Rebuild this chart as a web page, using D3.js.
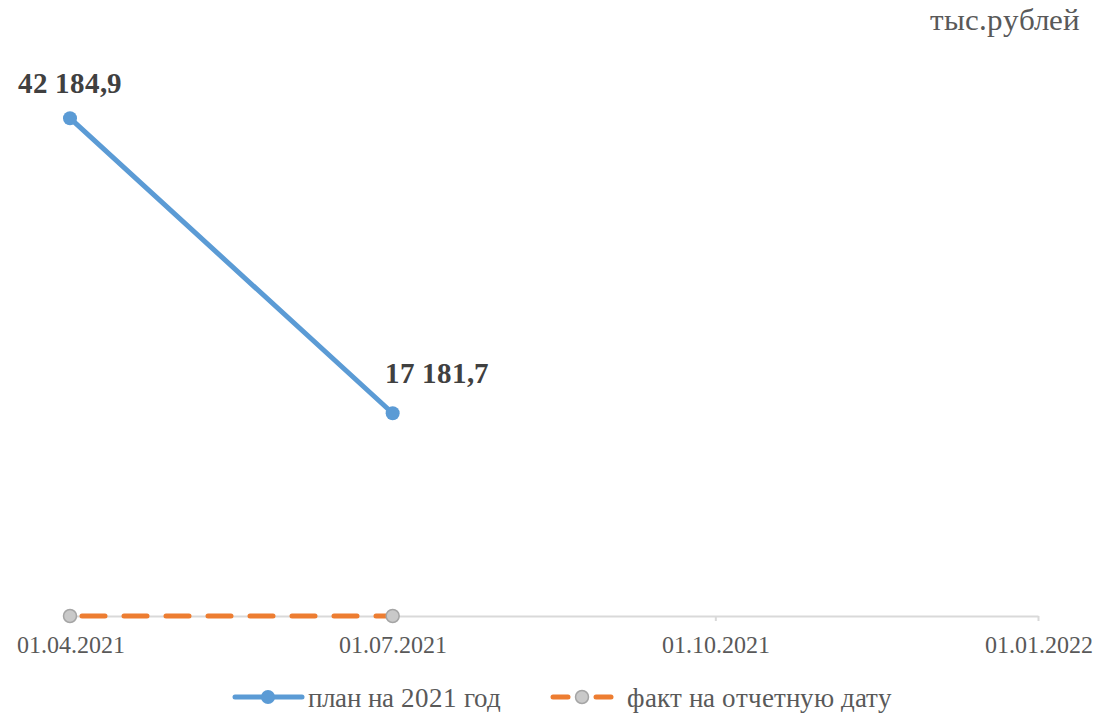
<!DOCTYPE html>
<html><head><meta charset="utf-8">
<script src="https://cdn.jsdelivr.net/npm/d3@7"></script>
<style>
@font-face{font-family:"ChartSerif";src:local("Liberation Serif"),local("LiberationSerif"),local("Liberation Serif Regular"),local("LiberationSerif-Regular");font-weight:400;}
@font-face{font-family:"ChartSerif";src:local("Liberation Serif Bold"),local("LiberationSerif-Bold");font-weight:700;}
body{margin:0;background:#fff}
</style>
</head><body>
<svg id="c" width="1096" height="715"></svg>
<script>
const categories = ["01.04.2021","01.07.2021","01.10.2021","01.01.2022"];
const planValues = [42184.9, 17181.7];
const factValues = [0, 0];
const planLabels = ["42 184,9","17 181,7"];
const seriesNames = ["план на 2021 год","факт на отчетную дату"];
const unitLabel = "тыс.рублей";

const FONT = "ChartSerif, 'Liberation Serif', 'Times New Roman', serif";
const svg = d3.select("#c");
const x = d3.scalePoint().domain(categories).range([70, 1038]);
const y = d3.scaleLinear().domain([0, 45000]).range([616, 85]);

// axis
const ax = svg.append("g").attr("transform","translate(0,616)")
  .call(d3.axisBottom(x).tickSize(5).tickPadding(15).tickSizeOuter(0));
ax.attr("font-family",null).attr("font-size",null);
ax.select(".domain").attr("stroke","#d9d9d9").attr("stroke-width",2);
ax.selectAll(".tick line").attr("stroke","#d9d9d9").attr("stroke-width",2);
ax.selectAll(".tick text").style("font-family",FONT).style("font-size","24px").attr("fill","#595959");

// unit label
svg.append("text").attr("x",1080).attr("y",30).attr("text-anchor","end")
  .style("font-family",FONT).style("font-size","31px").attr("fill","#595959").text(unitLabel);

const line = d3.line().x((d,i)=>x(categories[i])).y(d=>y(d));

// plan
svg.append("path").datum(planValues).attr("d",line).attr("fill","none")
  .attr("stroke","#5b9bd5").attr("stroke-width",5).attr("stroke-linecap","round");
svg.selectAll(".pm").data(planValues).enter().append("circle")
  .attr("cx",(d,i)=>x(categories[i])).attr("cy",d=>y(d)).attr("r",7).attr("fill","#5b9bd5");
svg.selectAll(".pl").data(planValues).enter().append("text")
  .attr("x",(d,i)=>x(categories[i])+(i===0?0:44)).attr("y",(d,i)=>y(d)-(i===0?25:30))
  .attr("text-anchor","middle").style("font-family",FONT).style("font-weight","bold")
  .style("font-size","28.5px").attr("fill","#404040").text((d,i)=>planLabels[i]);

// fact
svg.append("path").datum(factValues).attr("d",line).attr("fill","none")
  .attr("stroke","#ed7d31").attr("stroke-width",5).attr("stroke-dasharray","23,19")
  .attr("stroke-dashoffset",-12).attr("stroke-linecap","round");
svg.selectAll(".fm").data(factValues).enter().append("circle")
  .attr("cx",(d,i)=>x(categories[i])).attr("cy",d=>y(d)).attr("r",6.5)
  .attr("fill","#c9c9c9").attr("stroke","#a5a5a5").attr("stroke-width",1.5);

// legend
const lg = svg.append("g");
lg.append("line").attr("x1",235).attr("x2",302).attr("y1",697).attr("y2",697)
  .attr("stroke","#5b9bd5").attr("stroke-width",5).attr("stroke-linecap","round");
lg.append("circle").attr("cx",268).attr("cy",697).attr("r",7).attr("fill","#5b9bd5");
lg.append("text").attr("x",308).attr("y",707).style("font-family",FONT).style("font-size","27px")
  .attr("fill","#595959").text(seriesNames[0]);
lg.append("line").attr("x1",553).attr("x2",568).attr("y1",697).attr("y2",697)
  .attr("stroke","#ed7d31").attr("stroke-width",5).attr("stroke-linecap","round");
lg.append("line").attr("x1",596).attr("x2",611).attr("y1",697).attr("y2",697)
  .attr("stroke","#ed7d31").attr("stroke-width",5).attr("stroke-linecap","round");
lg.append("circle").attr("cx",582).attr("cy",697).attr("r",6.5)
  .attr("fill","#c9c9c9").attr("stroke","#a5a5a5").attr("stroke-width",1.5);
lg.append("text").attr("x",627).attr("y",707).style("font-family",FONT).style("font-size","27px")
  .attr("fill","#595959").text(seriesNames[1]);
</script>
</body></html>
